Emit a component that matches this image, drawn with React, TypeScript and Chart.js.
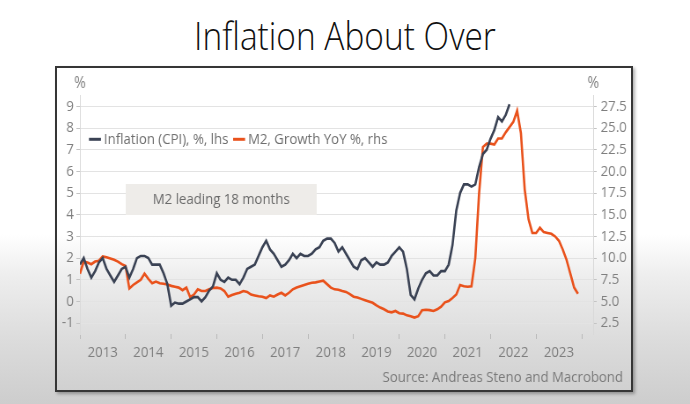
import React, { useEffect, useRef } from 'react';
import { Chart, registerables } from 'chart.js';

Chart.register(...registerables);

// ---------- data ----------
const TITLE = 'Inflation About Over';
const yearLabels = ['2013', '2014', '2015', '2016', '2017', '2018', '2019', '2020', '2021', '2022', '2023'];
const xMaxMonth = 135; // months after Jan 2013 shown on the axis
const leftTicks = [-1, 0, 1, 2, 3, 4, 5, 6, 7, 8, 9];
const rightTicks = [2.5, 5, 7.5, 10, 12.5, 15, 17.5, 20, 22.5, 25, 27.5];
const cpiLabel = 'Inflation (CPI), %, lhs';
const m2Label = 'M2, Growth YoY %, rhs';
const annotationText = 'M2 leading 18 months';
const sourceText = 'Source: Andreas Steno and Macrobond';

// US CPI YoY %, monthly from Jan 2013
const cpiValues = [
  1.7, 2.0, 1.5, 1.1, 1.4, 1.8, 2.0, 1.5, 1.2, 0.9, 1.2, 1.5,
  1.6, 1.1, 1.5, 2.0, 2.1, 2.1, 2.0, 1.7, 1.7, 1.7, 1.3, 0.8,
  -0.2, -0.05, -0.1, -0.1, 0.0, 0.1, 0.2, 0.2, 0.0, 0.2, 0.5, 0.7,
  1.3, 1.0, 0.9, 1.1, 1.0, 1.0, 0.8, 1.1, 1.5, 1.6, 1.7, 2.1,
  2.5, 2.8, 2.4, 2.2, 1.9, 1.6, 1.7, 1.9, 2.2, 2.0, 2.2, 2.1,
  2.1, 2.2, 2.4, 2.5, 2.8, 2.9, 2.9, 2.7, 2.3, 2.5, 2.2, 1.9,
  1.6, 1.5, 1.9, 2.0, 1.8, 1.6, 1.8, 1.7, 1.7, 1.8, 2.1, 2.3,
  2.5, 2.3, 1.5, 0.3, 0.1, 0.6, 1.0, 1.3, 1.4, 1.2, 1.2, 1.4,
  1.4, 1.7, 2.6, 4.2, 5.0, 5.4, 5.4, 5.3, 5.4, 6.2, 6.8, 7.0,
  7.5, 7.9, 8.5, 8.3, 8.6, 9.1,
];

// M2 growth YoY %, shifted forward 18 months, monthly from Jan 2013 (plotted date)
const m2Values = [
  8.2, 9.6, 9.5, 9.3, 9.6, 9.7, 10.2, 10.1, 9.95, 9.8, 9.6, 9.3,
  9.1, 6.5, 6.9, 7.2, 7.5, 8.2, 7.6, 7.1, 7.3, 7.1, 7.05, 6.95,
  6.8, 6.7, 6.6, 6.3, 6.6, 5.5, 5.8, 6.4, 6.2, 6.2, 6.4, 6.55,
  6.6, 6.5, 6.2, 5.55, 5.75, 5.9, 6.0, 6.2, 6.1, 5.8, 5.7, 5.6,
  5.55, 5.4, 5.7, 5.55, 5.8, 6.0, 5.7, 6.0, 6.4, 6.6, 6.75, 6.9,
  7.05, 7.15, 7.2, 7.3, 7.4, 7.0, 6.6, 6.4, 6.35, 6.2, 6.1, 5.85,
  5.55, 5.45, 5.3, 5.15, 5.0, 4.85, 4.55, 4.3, 4.1, 3.85, 3.75, 3.9,
  3.65, 3.6, 3.4, 3.3, 3.15, 3.3, 4.0, 4.05, 4.0, 3.9, 4.1, 4.4,
  4.9, 5.05, 5.4, 5.8, 6.9, 6.75, 6.7, 6.75, 10.0, 17.5, 22.8, 23.2,
  23.2, 23.1, 23.8, 23.8, 24.5, 25.1, 25.7, 27.0, 24.4, 17.9, 14.5, 12.9,
  12.9, 13.5, 13.0, 12.9, 12.8, 12.5, 12.0, 11.0, 9.8, 8.2, 6.6, 5.9,
];

// ---------- styles ----------
const FONT = "'Open Sans', 'Noto Sans', sans-serif";
const CANVAS_W = 652;
const CANVAS_H = 322;
const SQUEEZE = 574 / CANVAS_W;
const CPI_COLOR = '#3a4254';
const M2_COLOR = '#e9521c';
const TICK_TEXT = '#7f7f7f';

const overlayPlugin = {
  id: 'overlay',
  beforeDatasetsDraw(chart: any) {
    const { ctx, chartArea: a } = chart;
    ctx.save();
    const bx = a.left + 52;
    const by = a.top + 88.5;
    const bw = 217;
    const bh = 31;
    ctx.fillStyle = '#eeece9';
    ctx.fillRect(bx, by, bw, bh);
    ctx.font = `15px ${FONT}`;
    ctx.fillStyle = '#6a6a6a';
    ctx.textAlign = 'center';
    ctx.textBaseline = 'middle';
    ctx.fillText(annotationText, bx + bw / 2, by + bh / 2 + 0.5);
    ctx.restore();
  },
  afterDraw(chart: any) {
    const { ctx, chartArea: a } = chart;
    ctx.save();
    // axis unit labels
    ctx.font = `16px ${FONT}`;
    ctx.fillStyle = TICK_TEXT;
    ctx.textAlign = 'center';
    ctx.textBaseline = 'middle';
    ctx.fillText('%', a.left, a.top - 12.5);
    ctx.fillText('%', a.right, a.top - 12.5);

    // legend inside plot
    ctx.font = `15px ${FONT}`;
    ctx.textAlign = 'left';
    let x = a.left + 10.3;
    const y = a.top + 43.8;
    chart.data.datasets.forEach((ds: any) => {
      ctx.strokeStyle = ds.borderColor;
      ctx.lineWidth = 3;
      ctx.beginPath();
      ctx.moveTo(x, y);
      ctx.lineTo(x + 13.6, y);
      ctx.stroke();
      x += 13.6 + 3.4;
      ctx.fillStyle = '#6e6e6e';
      ctx.fillText(ds.label, x, y);
      x += ctx.measureText(ds.label).width + 5.3;
    });

    // source
    ctx.font = `15px ${FONT}`;
    ctx.fillStyle = '#7a7a7a';
    ctx.textAlign = 'right';
    ctx.fillText(sourceText, chart.width - 9, 310);
    ctx.restore();
  },
};

export default function App() {
  const ref = useRef<HTMLCanvasElement>(null);

  useEffect(() => {
    const canvas = ref.current;
    if (!canvas) return;
    const tickMonths = [...yearLabels.map((_, i) => i * 12), yearLabels.length * 12];
    const chart = new Chart(canvas, {
      type: 'line',
      data: {
        datasets: [
          {
            label: cpiLabel,
            data: cpiValues.map((v, i) => ({ x: i, y: v })),
            borderColor: CPI_COLOR,
            backgroundColor: CPI_COLOR,
            borderWidth: 2.6,
            pointRadius: 0,
            tension: 0,
            yAxisID: 'y',
          },
          {
            label: m2Label,
            data: m2Values.map((v, i) => ({ x: i, y: v })),
            borderColor: M2_COLOR,
            backgroundColor: M2_COLOR,
            borderWidth: 2.6,
            pointRadius: 0,
            tension: 0,
            yAxisID: 'y1',
          },
        ],
      },
      options: {
        responsive: false,
        animation: false,
        devicePixelRatio: 1,
        layout: { padding: { top: 27.5, bottom: 28, left: 0, right: 0 } },
        plugins: {
          legend: { display: false },
          tooltip: { enabled: false },
          title: { display: false },
        },
        scales: {
          x: {
            type: 'linear',
            min: 0,
            max: xMaxMonth,
            afterBuildTicks: (s: any) => {
              s.ticks = tickMonths.map((v) => ({ value: v }));
            },
            afterFit: (s: any) => {
              s.height = 28;
            },
            ticks: {
              autoSkip: false,
              maxRotation: 0,
              labelOffset: 25.9,
              padding: 4.5,
              color: TICK_TEXT,
              font: { family: FONT, size: 15 },
              callback: (_v: any, i: number) => yearLabels[i] ?? '',
            },
            grid: {
              display: true,
              drawOnChartArea: false,
              drawTicks: true,
              tickLength: 5,
              color: '#b8b8b8',
              tickColor: '#b8b8b8',
            },
            border: { display: false },
          },
          y: {
            type: 'linear',
            position: 'left',
            min: -1.5,
            max: 9.5,
            afterBuildTicks: (s: any) => {
              s.ticks = leftTicks.map((v) => ({ value: v }));
            },
            afterFit: (s: any) => {
              s.width = 26;
            },
            ticks: {
              padding: 3,
              color: TICK_TEXT,
              font: { family: FONT, size: 15 },
              callback: (v: any) => String(v),
            },
            grid: {
              color: '#e3e3e3',
              tickColor: '#c4c4c4',
              tickLength: 4,
              drawTicks: true,
            },
            border: { display: true, color: '#d9d9d9' },
          },
          y1: {
            type: 'linear',
            position: 'right',
            min: 1.25,
            max: 28.75,
            afterBuildTicks: (s: any) => {
              s.ticks = rightTicks.map((v) => ({ value: v }));
            },
            afterFit: (s: any) => {
              s.width = 43;
            },
            ticks: {
              padding: 4.5,
              color: TICK_TEXT,
              font: { family: FONT, size: 15 },
              callback: (v: any) => Number(v).toFixed(1),
            },
            grid: {
              drawOnChartArea: false,
              tickColor: '#c4c4c4',
              tickLength: 4,
              drawTicks: true,
            },
            border: { display: true, color: '#d9d9d9' },
          },
        },
      },
      plugins: [overlayPlugin],
    } as any);
    return () => chart.destroy();
  }, []);

  return (
    <div
      style={{
        position: 'absolute',
        left: 0,
        top: 0,
        width: 690,
        height: 404,
        overflow: 'hidden',
        background:
          'linear-gradient(to bottom, #ffffff 0%, #ffffff 58%, #eeeeee 68%, #dcdcdc 84%, #cdcdcd 100%)',
      }}
    >
      <div
        style={{
          position: 'absolute',
          left: 0,
          top: 13,
          width: 690,
          textAlign: 'center',
          fontFamily: FONT,
          fontWeight: 300,
          fontSize: 38,
          lineHeight: '44px',
          color: '#111111',
          transform: `scaleX(0.88)`,
        }}
      >
        {TITLE}
      </div>
      <div
        style={{
          position: 'absolute',
          left: 55,
          top: 66,
          width: 578,
          height: 326,
          boxSizing: 'border-box',
          border: '2px solid #363636',
          boxShadow: '2px 2px 3px rgba(0,0,0,0.3)',
          overflow: 'hidden',
        }}
      >
        <canvas
          ref={ref}
          width={CANVAS_W}
          height={CANVAS_H}
          style={{
            display: 'block',
            width: CANVAS_W,
            height: CANVAS_H,
            transform: `scaleX(${SQUEEZE})`,
            transformOrigin: '0 0',
          }}
        />
      </div>
    </div>
  );
}
